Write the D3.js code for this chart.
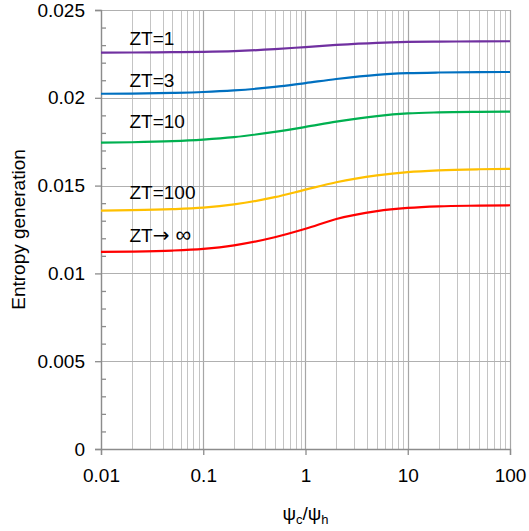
<!DOCTYPE html>
<html>
	<head>
		<script type="text/javascript" src="https://d3js.org/d3.v7.min.js"></script>
		<style>
			body { margin: 0; background: #fff; }
			text { font-family: "Liberation Sans", Arial, sans-serif; fill: #000; }
		</style>
	</head>
	<body>
		<svg id="viz"></svg>
	</body>
	<script type="text/javascript">
		// psi_c / psi_h sample points (log axis)
		var ratio = [0.01, 0.02, 0.05, 0.1, 0.2, 0.5, 1, 2, 5, 10, 20, 50, 100];

		// entropy generation, one array per ZT
		var zt1   = [0.02257, 0.02258, 0.02260, 0.02262, 0.02266, 0.02277, 0.02289, 0.02301, 0.02313, 0.02318, 0.02320, 0.02321, 0.02322];
		var zt3   = [0.02023, 0.02024, 0.02028, 0.02033, 0.02042, 0.02062, 0.02084, 0.02107, 0.02131, 0.02140, 0.02144, 0.02146, 0.02147];
		var zt10  = [0.01745, 0.01747, 0.01753, 0.01762, 0.01776, 0.01806, 0.01834, 0.01864, 0.01896, 0.01911, 0.01917, 0.01920, 0.01921];
		var zt100 = [0.01358, 0.01360, 0.01366, 0.01375, 0.01393, 0.01434, 0.01477, 0.01519, 0.01558, 0.01577, 0.01587, 0.01593, 0.01595];
		var ztInf = [0.01122, 0.01124, 0.01130, 0.01140, 0.01160, 0.01206, 0.01254, 0.01310, 0.01355, 0.01373, 0.01382, 0.01386, 0.01388];

		var seriesNames = ["ZT=1", "ZT=3", "ZT=10", "ZT=100", "ZT\u2192 \u221E"];
		var seriesColors = ["#7030A0", "#0070C0", "#00B050", "#FFC000", "#FF0000"];
		// where each curve label sits (data coords)
		var labelX = [0.019, 0.019, 0.019, 0.019, 0.019];
		var labelY = [0.0230, 0.02062, 0.01828, 0.01424, 0.01179];

		var xTicks = [0.01, 0.1, 1, 10, 100];
		var yTicks = [0, 0.005, 0.01, 0.015, 0.02, 0.025];

		var width = 529, height = 531;
		var margin = {top: 10, right: 19, bottom: 82, left: 101};

		var svg = d3.select("#viz")
			.attr("width", width)
			.attr("height", height);

		var x = d3.scaleLog()
			.domain([0.01, 100])
			.range([margin.left, width - margin.right]);

		var y = d3.scaleLinear()
			.domain([0, 0.025])
			.range([height - margin.bottom, margin.top]);

		var fmt = function(d) { return String(+d.toPrecision(3)); };

		// minor vertical grid (2..9 in each decade)
		var minor = [];
		xTicks.slice(0, -1).forEach(function(dec) {
			for (var k = 2; k <= 9; k++) minor.push(dec * k);
		});
		svg.append("g")
			.selectAll("line")
			.data(minor)
			.enter().append("line")
			.attr("x1", function(d) { return Math.round(x(d)) + 0.5; })
			.attr("x2", function(d) { return Math.round(x(d)) + 0.5; })
			.attr("y1", y(0.025))
			.attr("y2", y(0))
			.style("stroke", "#c4c4c4")
			.style("stroke-width", 1);

		// major grid
		svg.append("g")
			.selectAll("line")
			.data(xTicks)
			.enter().append("line")
			.attr("x1", function(d) { return Math.round(x(d)) + 0.5; })
			.attr("x2", function(d) { return Math.round(x(d)) + 0.5; })
			.attr("y1", y(0.025))
			.attr("y2", y(0))
			.style("stroke", "#a6a6a6")
			.style("stroke-width", 1.2);

		svg.append("g")
			.selectAll("line")
			.data(yTicks)
			.enter().append("line")
			.attr("x1", x(0.01))
			.attr("x2", x(100))
			.attr("y1", function(d) { return Math.round(y(d)) + 0.5; })
			.attr("y2", function(d) { return Math.round(y(d)) + 0.5; })
			.style("stroke", "#b0b0b0")
			.style("stroke-width", 1.2);

		// y axis: outward major ticks, inward minor ticks
		var yAxis = svg.append("g")
			.attr("transform", "translate(" + x(0.01) + ",0)")
			.call(d3.axisLeft(y).tickValues(yTicks).tickFormat(fmt).tickSize(6).tickPadding(10));
		yAxis.append("g")
			.call(d3.axisRight(y).tickValues(d3.range(1, 25).filter(function(i) { return i % 5; }).map(function(i) { return i / 1000; })).tickSize(5).tickFormat(""))
			.select(".domain").remove();

		var xAxis = svg.append("g")
			.attr("transform", "translate(0," + y(0) + ")")
			.call(d3.axisBottom(x).tickValues(xTicks).tickFormat(fmt).tickSize(6).tickPadding(14));

		[yAxis, xAxis].forEach(function(a) {
			a.selectAll("path, line").style("stroke", "#8c8c8c").style("stroke-width", 1.3);
			a.selectAll("text").style("font-size", "19px").style("fill", "#000")
				.style("font-family", "'Liberation Sans', Arial, sans-serif");
		});

		// curves
		var allSeries = [zt1, zt3, zt10, zt100, ztInf];
		var line = d3.line()
			.x(function(d, i) { return x(ratio[i]); })
			.y(function(d) { return y(d); })
			.curve(d3.curveMonotoneX);

		svg.append("g")
			.selectAll("path")
			.data(allSeries)
			.enter().append("path")
			.attr("d", line)
			.style("fill", "none")
			.style("stroke", function(d, i) { return seriesColors[i]; })
			.style("stroke-width", 2.2);

		var labels = svg.append("g")
			.selectAll("text")
			.data(seriesNames)
			.enter().append("text")
			.attr("x", function(d, i) { return x(labelX[i]); })
			.attr("y", function(d, i) { return y(labelY[i]); })
			.style("font-size", "19px");
		// arrow glyph is missing from Liberation Sans, so pull it from DejaVu
		labels.each(function(d) {
			var t = d3.select(this);
			var parts = d.split("\u2192");
			t.append("tspan").text(parts[0]);
			if (parts.length > 1) {
				t.append("tspan").style("font-family", "'DejaVu Sans'").style("font-size", "20px").text("\u2192");
				t.append("tspan").style("font-size", "22px").text(parts[1]);
			}
		});

		// axis titles
		svg.append("text")
			.attr("transform", "translate(25," + y(0.0125) + ") rotate(-90)")
			.attr("text-anchor", "middle")
			.style("font-size", "19px")
			.text("Entropy generation");

		var xt = svg.append("text")
			.attr("x", x(1))
			.attr("y", 520)
			.attr("text-anchor", "middle")
			.style("font-size", "19px");
		xt.append("tspan").text("\u03C8");
		xt.append("tspan").attr("dy", 4).style("font-size", "13px").text("c");
		xt.append("tspan").attr("dy", -4).text("/\u03C8");
		xt.append("tspan").attr("dy", 4).style("font-size", "13px").text("h");
	</script>
</html>
